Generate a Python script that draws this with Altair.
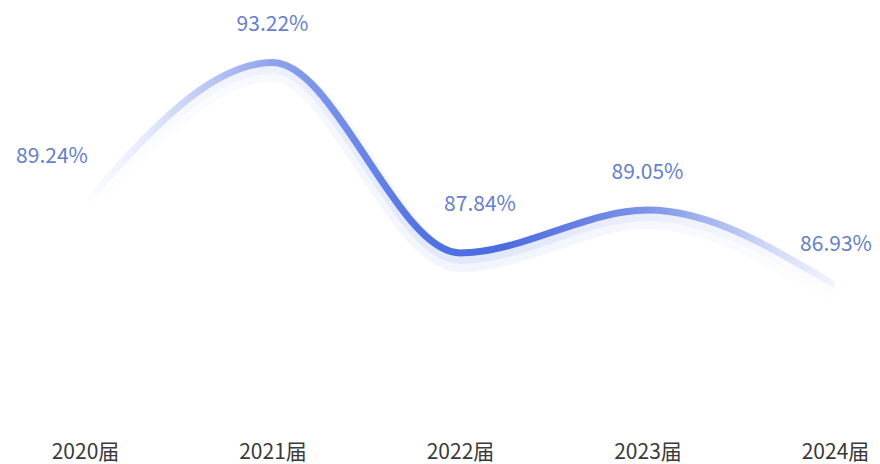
import altair as alt
import pandas as pd

categories = ["2020届", "2021届", "2022届", "2023届", "2024届"]
values = [89.24, 93.22, 87.84, 89.05, 86.93]
labels = ["89.24%", "93.22%", "87.84%", "89.05%", "86.93%"]

df = pd.DataFrame({"cat": categories, "val": values, "lab": labels})

FONT = "Noto Sans CJK SC"

x = alt.X("cat:N", sort=categories, title=None,
          scale=alt.Scale(type="point", range=[77, 827], padding=0),
          axis=alt.Axis(labelAngle=0, domain=False, ticks=False, grid=False,
                        labelFont=FONT, labelFontSize=21, labelColor="#3a3a3a",
                        labelPadding=13))
y = alt.Y("val:Q", title=None,
          scale=alt.Scale(domain=[86, 94], range=[310, 27], zero=False, nice=False),
          axis=None)

def grad():
    return alt.Gradient(
        gradient="linear", x1=0, y1=0, x2=1, y2=0,
        stops=[
            alt.GradientStop(offset=0.0, color="#ffffff"),
            alt.GradientStop(offset=0.08, color="#e6eafb"),
            alt.GradientStop(offset=0.25, color="#8ea2ed"),
            alt.GradientStop(offset=0.45, color="#5273e3"),
            alt.GradientStop(offset=0.55, color="#4a6ae0"),
            alt.GradientStop(offset=0.75, color="#7d94e8"),
            alt.GradientStop(offset=0.92, color="#d3dbf7"),
            alt.GradientStop(offset=1.0, color="#f4f6fd"),
        ])

base = alt.Chart(df)

glow = base.mark_line(interpolate="monotone", strokeWidth=22, opacity=0.07,
                      color=grad(), yOffset=8).encode(x=x, y=y)
glow2 = base.mark_line(interpolate="monotone", strokeWidth=12, opacity=0.1,
                       color=grad(), yOffset=5).encode(x=x, y=y)
line = base.mark_line(interpolate="monotone", strokeWidth=7,
                      color=grad()).encode(x=x, y=y)

offsets = {
    "2020届": (-33, -46),
    "2021届": (0, -38),
    "2022届": (20, -48),
    "2023届": (0, -37),
    "2024届": (1, -40),
}
texts = []
for c in categories:
    dx, dy = offsets[c]
    texts.append(
        base.transform_filter(alt.datum.cat == c).mark_text(
            font=FONT, fontSize=21, color="#6580cc", dx=dx, dy=dy,
            baseline="middle", align="center"
        ).encode(x=x, y=y, text="lab:N")
    )

chart = alt.layer(glow, glow2, line, *texts).properties(
    width=864, height=420,
    autosize=alt.AutoSizeParams(type="none"),
    padding={"left": 0, "top": 0, "right": 0, "bottom": 36},
).configure_view(stroke=None)

chart.save("out.html", embed_options={"renderer": "svg", "actions": False})
